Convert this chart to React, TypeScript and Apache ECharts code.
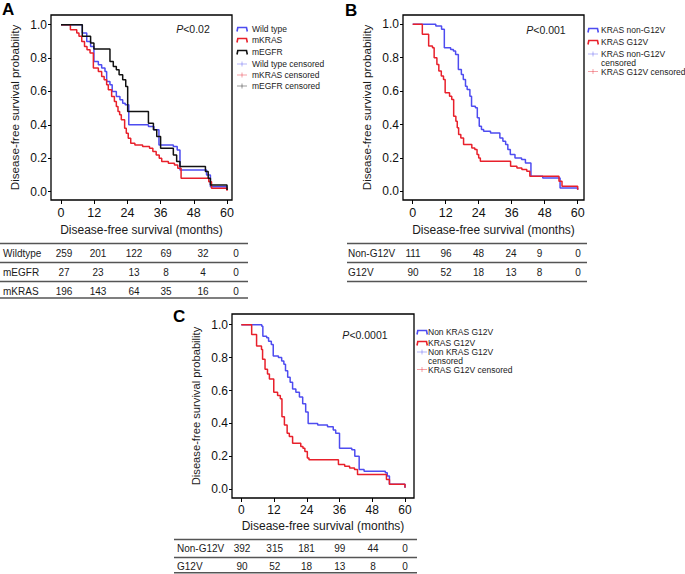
import React, { useEffect, useRef } from "react";
import * as echarts from "echarts";

const FONT = '"Liberation Sans", Arial, Helvetica, sans-serif';
const BLUE = "#4e4cf0";
const RED = "#e8202b";
const BLACK = "#111111";

// ---- Panel A (months, survival) ----
const wildType: [number, number][] = [
  [0, 1], [7.7, 0.95], [9.3, 0.9], [10.7, 0.87], [11.9, 0.78], [13.5, 0.76], [14.7, 0.74],
  [15.9, 0.72], [16.5, 0.66], [17.7, 0.64], [18.5, 0.6], [20, 0.57], [21.3, 0.55], [22.3, 0.53],
  [23.2, 0.52], [24.5, 0.4], [31.6, 0.39], [33.6, 0.37], [35.4, 0.28], [40.6, 0.27], [42, 0.25],
  [43, 0.13], [52.6, 0.1], [54, 0.03], [60, 0.01],
];
const mKRAS: [number, number][] = [
  [0, 1], [3.4, 0.97], [5.7, 0.95], [6.5, 0.93], [7.5, 0.9], [8.5, 0.87], [9.4, 0.85], [10.5, 0.83],
  [11.7, 0.74], [13.5, 0.72], [14.7, 0.69], [15.6, 0.67], [16.5, 0.64], [17.1, 0.61], [18.3, 0.57],
  [19.3, 0.54], [20, 0.51], [20.6, 0.48], [21.2, 0.46], [21.8, 0.43], [23, 0.38], [23.6, 0.35],
  [24.3, 0.32], [25.2, 0.29], [26.7, 0.28], [29.5, 0.27], [32, 0.26], [33.2, 0.24], [34.4, 0.22],
  [35.5, 0.2], [36.4, 0.18], [38.8, 0.17], [41, 0.16], [42.2, 0.14], [43.4, 0.08], [53.4, 0.06],
  [54.4, 0.02], [60, 0.005],
];
const mEGFR: [number, number][] = [
  [0, 1], [7.7, 0.93], [10.7, 0.89], [11.9, 0.855], [17.7, 0.78], [18.9, 0.75], [20, 0.73],
  [21, 0.7], [22.3, 0.67], [23.4, 0.63], [24.1, 0.48], [31.6, 0.41], [33.4, 0.37], [34.6, 0.33],
  [36, 0.26], [40.6, 0.22], [41.8, 0.18], [43, 0.15], [52.2, 0.12], [53.2, 0.08], [54, 0.04],
  [60, 0.01],
];

// ---- Panel B ----
const bNonG12V: [number, number][] = [
  [0, 1], [8.4, 0.99], [10.5, 0.97], [11.5, 0.86], [13.8, 0.85], [14.8, 0.84], [15.6, 0.82],
  [16.6, 0.73], [17.7, 0.7], [18.4, 0.67], [19.2, 0.63], [19.8, 0.61], [20.8, 0.57], [21.4, 0.51],
  [22.8, 0.5], [23.5, 0.44], [24.2, 0.39], [25, 0.37], [25.8, 0.36], [28.3, 0.35], [31.7, 0.32],
  [32.8, 0.3], [33.8, 0.28], [34.6, 0.25], [35.5, 0.22], [37.2, 0.2], [39.6, 0.19], [41, 0.17],
  [43, 0.09], [47.3, 0.08], [53.6, 0.02], [60, 0.01],
];
const bG12V: [number, number][] = [
  [0, 1], [3.5, 0.94], [5.8, 0.87], [7.2, 0.86], [7.8, 0.8], [8.8, 0.76], [9.5, 0.72], [10.4, 0.69],
  [11.2, 0.67], [11.8, 0.59], [13.4, 0.57], [14.2, 0.55], [14.9, 0.45], [15.7, 0.42], [16.2, 0.38],
  [16.7, 0.34], [17.5, 0.32], [18.5, 0.28], [21.5, 0.26], [22.6, 0.25], [23.4, 0.22], [24, 0.2],
  [24.6, 0.18], [35.6, 0.15], [37.9, 0.14], [39.7, 0.13], [41.5, 0.12], [42.6, 0.09], [53.2, 0.06],
  [54.3, 0.03], [60, 0.01],
];

// ---- Panel C ----
const cNonG12V: [number, number][] = [
  [0, 1], [7.5, 0.99], [7.9, 0.93], [9.3, 0.92], [10, 0.9], [11, 0.88], [11.7, 0.81], [13.6, 0.8],
  [14.8, 0.78], [15.6, 0.76], [16.2, 0.72], [17, 0.68], [17.9, 0.65], [18.8, 0.61], [20, 0.59],
  [21.3, 0.56], [22.5, 0.52], [23.6, 0.47], [24.5, 0.4], [28, 0.39], [31.6, 0.38], [33.7, 0.36],
  [34.6, 0.34], [36, 0.25], [40.5, 0.24], [41.6, 0.2], [43.2, 0.12], [45, 0.11], [52.8, 0.1],
  [53.5, 0.08], [54.3, 0.03], [60, 0.01],
];
const cG12V: [number, number][] = [
  [0, 1], [3.8, 0.94], [5.6, 0.87], [7.4, 0.85], [7.8, 0.79], [8.7, 0.73], [9.6, 0.7], [10.3, 0.67],
  [11.9, 0.59], [13.3, 0.57], [14.3, 0.55], [14.9, 0.44], [15.8, 0.39], [16.8, 0.34], [17.6, 0.32],
  [18.8, 0.28], [21.8, 0.26], [22.6, 0.25], [23.3, 0.23], [24.2, 0.19], [24.8, 0.18], [35.6, 0.15],
  [37.9, 0.14], [39.7, 0.13], [41.5, 0.12], [42.6, 0.09], [53.2, 0.06], [54.3, 0.03], [60, 0.01],
];

// ---- Axis ticks ----
const xTicks = [0, 12, 24, 36, 48, 60];
const yTicks = [0, 0.2, 0.4, 0.6, 0.8, 1.0];

// ---- Risk tables ----
const tableAGroups = ["Wildtype", "mEGFR", "mKRAS"];
const tableAValues = [
  [259, 201, 122, 69, 32, 0],
  [27, 23, 13, 8, 4, 0],
  [196, 143, 64, 35, 16, 0],
];
const tableBGroups = ["Non-G12V", "G12V"];
const tableBValues = [
  [111, 96, 48, 24, 9, 0],
  [90, 52, 18, 13, 8, 0],
];
const tableCGroups = ["Non-G12V", "G12V"];
const tableCValues = [
  [392, 315, 181, 99, 44, 0],
  [90, 52, 18, 13, 8, 0],
];

const legendA = ["Wild type", "mKRAS", "mEGFR", "Wild type censored", "mKRAS censored", "mEGFR censored"];
const legendB = ["KRAS non-G12V", "KRAS G12V", "KRAS non-G12V", "censored", "KRAS G12V censored"];
const legendC = ["Non KRAS G12V", "KRAS G12V", "Non KRAS G12V", "censored", "KRAS G12V censored"];
const pValues = ["<0.02", "<0.001", "<0.0001"];

function txt(x: number, y: number, text: string, size: number, align = "left", extra: any = {}) {
  return {
    type: "text",
    silent: true,
    style: {
      x, y, text,
      fill: "#1a1a1a",
      fontSize: size,
      fontFamily: FONT,
      textAlign: align,
      verticalAlign: "middle",
      textVerticalAlign: "middle",
      ...extra,
    },
  };
}

function hline(x1: number, x2: number, y: number) {
  return {
    type: "line", silent: true,
    shape: { x1, y1: y, x2, y2: y },
    style: { stroke: "#555", lineWidth: 1.5 },
  };
}

function table(groups: string[], values: number[][], xLabel: number, cols: number[], lines: number[], rows: number[], x1: number, x2: number) {
  const els: any[] = [];
  lines.forEach((y) => els.push(hline(x1, x2, y)));
  groups.forEach((g, i) => {
    els.push(txt(xLabel, rows[i], g, 10, "left"));
    values[i].forEach((v, j) => els.push(txt(cols[j], rows[i], String(v), 10, "center")));
  });
  return els;
}

function legendIcon(x: number, y: number, color: string) {
  return {
    type: "polyline", silent: true,
    shape: { points: [[x, y + 2.5], [x + 0.8, y - 1.5], [x + 9.5, y - 1.5], [x + 10.3, y + 2.5]] },
    style: { stroke: color, lineWidth: 1.6, fill: "none" },
  };
}
function censorIcon(x: number, y: number, color: string) {
  return [
    { type: "line", silent: true, shape: { x1: x, y1: y, x2: x + 10, y2: y }, style: { stroke: color, lineWidth: 0.7, opacity: 0.6 } },
    { type: "line", silent: true, shape: { x1: x + 5, y1: y - 2.5, x2: x + 5, y2: y + 2.5 }, style: { stroke: color, lineWidth: 0.7, opacity: 0.6 } },
  ];
}

function pText(x: number, y: number, p: string) {
  return {
    type: "text", silent: true,
    style: {
      x, y, text: "{i|P}{n|" + p + "}",
      textAlign: "center", verticalAlign: "middle", textVerticalAlign: "middle",
      rich: {
        i: { fontStyle: "italic", fontSize: 10.5, fontFamily: FONT, fill: "#1a1a1a" },
        n: { fontSize: 10.5, fontFamily: FONT, fill: "#1a1a1a" },
      },
    },
  };
}

function xAxis(gi: number, min: number, max: number, labelSize: number, gap: number) {
  return {
    type: "value", gridIndex: gi, min, max,
    axisLine: { show: false, onZero: false },
    splitLine: { show: false },
    axisTick: { show: true, customValues: xTicks, length: 4, lineStyle: { color: "#000", width: 1 } },
    axisLabel: { customValues: xTicks, margin: 6, fontSize: labelSize, color: "#111", fontFamily: FONT },
    name: "Disease-free survival (months)",
    nameLocation: "middle", nameGap: gap,
    nameTextStyle: { fontSize: 12, color: "#1a1a1a", fontFamily: FONT },
  };
}
function yAxis(gi: number, min: number, max: number, gap: number, nameSize: number, labelSize: number) {
  return {
    type: "value", gridIndex: gi, min, max,
    axisLine: { show: false, onZero: false },
    splitLine: { show: false },
    axisTick: { show: true, customValues: yTicks, length: 3, lineStyle: { color: "#000", width: 1 } },
    axisLabel: {
      customValues: yTicks, margin: 4, fontSize: labelSize, color: "#111", fontFamily: FONT,
      formatter: (v: number) => v.toFixed(1),
    },
    name: "Disease-free survival probability",
    nameLocation: "middle", nameGap: gap, nameRotate: 90,
    nameTextStyle: { fontSize: nameSize, color: "#1a1a1a", fontFamily: FONT },
  };
}

function km(name: string, data: [number, number][], color: string, idx: number) {
  return {
    type: "line", name, data, step: "end", xAxisIndex: idx, yAxisIndex: idx,
    showSymbol: false, symbol: "none", silent: true,
    lineStyle: { color, width: 1.5 }, itemStyle: { color },
  };
}

export default function App() {
  const ref = useRef<HTMLDivElement>(null);
  useEffect(() => {
    if (!ref.current) return;
    const chart = echarts.init(ref.current, null, { renderer: "svg" });
    const gridStyle = { show: true, borderColor: "#000", borderWidth: 1.3, backgroundColor: "transparent" };

    const graphics: any[] = [];
    // Panel letters
    graphics.push(txt(2, 9, "A", 17, "left", { fontWeight: "bold", fill: "#000" }));
    graphics.push(txt(345, 10, "B", 17, "left", { fontWeight: "bold", fill: "#000" }));
    graphics.push(txt(173, 316, "C", 17, "left", { fontWeight: "bold", fill: "#000" }));

    // P values
    graphics.push(pText(193, 28.5, pValues[0]));
    graphics.push(pText(546, 30, pValues[1]));
    graphics.push(pText(365, 335, pValues[2]));

    // Legend A
    const aColors = [BLUE, RED, BLACK];
    const aRows = [29, 40, 52, 64, 75, 86];
    legendA.forEach((t, i) => {
      if (i < 3) graphics.push(legendIcon(237, aRows[i], aColors[i]));
      else graphics.push(...censorIcon(237, aRows[i], aColors[i - 3]));
      graphics.push(txt(252, aRows[i], t, 8.5));
    });
    // Legend B
    const bColors = [BLUE, RED];
    const bRows = [30, 42, 54, 62.5, 71.5];
    graphics.push(legendIcon(588, bRows[0], BLUE));
    graphics.push(legendIcon(588, bRows[1], RED));
    graphics.push(...censorIcon(588, bRows[2], BLUE));
    graphics.push(...censorIcon(588, bRows[4], RED));
    legendB.forEach((t, i) => graphics.push(txt(601, bRows[i], t, 8.5)));
    // Legend C
    const cRows = [332, 343, 352, 360.5, 369.5];
    graphics.push(legendIcon(417, cRows[0], bColors[0]));
    graphics.push(legendIcon(417, cRows[1], bColors[1]));
    graphics.push(...censorIcon(417, cRows[2], BLUE));
    graphics.push(...censorIcon(417, cRows[4], RED));
    legendC.forEach((t, i) => graphics.push(txt(428, cRows[i], t, 8.5)));

    // Tables
    graphics.push(...table(tableAGroups, tableAValues, 3, [64, 98, 134, 166, 203, 236],
      [243.5, 262.5, 281.5, 298], [253, 272.5, 291], 0, 248));
    graphics.push(...table(tableBGroups, tableBValues, 348, [413, 446, 478.5, 511, 539.5, 578],
      [243.5, 262.5, 281.5], [253, 272.5], 347, 587));
    graphics.push(...table(tableCGroups, tableCValues, 177, [242, 274.7, 306.5, 339.7, 373, 405],
      [539.5, 557.5, 572.8], [548.8, 566.5], 174, 417));

    chart.setOption({
      animation: false,
      backgroundColor: "#fff",
      textStyle: { fontFamily: FONT },
      grid: [
        { left: 51, top: 15, width: 181, height: 185, ...gridStyle },
        { left: 403, top: 15, width: 181, height: 185, ...gridStyle },
        { left: 232, top: 314, width: 182, height: 184, ...gridStyle },
      ],
      xAxis: [
        xAxis(0, -3.61, 61.8, 12.5, 24),
        xAxis(1, -3.53, 62.3, 12.5, 24),
        xAxis(2, -3.41, 63.3, 12, 22),
      ],
      yAxis: [
        yAxis(0, -0.05, 1.058, 31, 11.7, 12),
        yAxis(1, -0.052, 1.056, 31, 11.7, 12),
        yAxis(2, -0.053, 1.065, 31, 11.2, 12),
      ],
      series: [
        km("Wild type", wildType, BLUE, 0),
        km("mKRAS", mKRAS, RED, 0),
        km("mEGFR", mEGFR, BLACK, 0),
        km("KRAS non-G12V", bNonG12V, BLUE, 1),
        km("KRAS G12V", bG12V, RED, 1),
        km("Non KRAS G12V", cNonG12V, BLUE, 2),
        km("KRAS G12V ", cG12V, RED, 2),
      ],
      graphic: { elements: graphics },
    });
    return () => chart.dispose();
  }, []);
  return (
    <div
      ref={ref}
      style={{ position: "fixed", left: 0, top: 0, width: 685, height: 574, background: "#fff" }}
    />
  );
}
